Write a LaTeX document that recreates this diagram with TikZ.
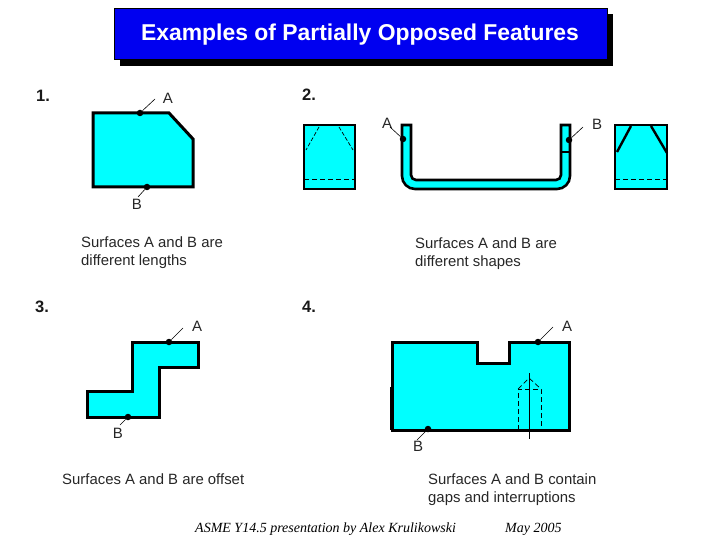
\documentclass[tikz,border=0pt]{standalone}
\usepackage{fontspec}
\setmainfont{Liberation Sans}
\newfontfamily\footfont{Liberation Serif}
\usetikzlibrary{positioning}

\definecolor{partcyan}{RGB}{0,255,255}
\definecolor{titleblue}{RGB}{0,0,240}

\begin{document}
\begin{tikzpicture}[x=1pt, y=-1pt,
    part/.style={draw=black, fill=partcyan, line width=3pt, line join=miter},
    hidden/.style={draw=black, line width=0.7pt, dash pattern=on 5pt off 3pt},
    leader/.style={draw=black, line width=0.6pt},
    point/.style={circle, fill=black, inner sep=0pt, minimum size=6.5pt},
    letter/.style={font=\fontsize{15}{15}\selectfont, text=black!85, inner sep=0pt},
    num/.style={font=\fontsize{16.5}{16.5}\selectfont\bfseries, text=black!90, inner sep=0pt},
    note/.style={font=\fontsize{14.9}{18}\selectfont, text=black!85, inner sep=0pt, align=left, anchor=north west},
    foot/.style={font=\fontsize{14}{14}\selectfont\footfont\itshape, inner sep=0pt}]
  \useasboundingbox (0,0) rectangle (720,540);

  % title
  \fill[black] (120,14) rectangle (613,66);
  \node[fill=titleblue, draw=black, line width=0.6pt, minimum width=493pt, minimum height=51pt, inner sep=0pt] (title) at (360.5,33.5) {};
  \node[font=\fontsize{22.9}{22.9}\selectfont\bfseries, text=white, inner sep=0pt] (titletext) at (360,34.5) {Examples of Partially Opposed Features};

  \node[num] (num1) at (43,96) {1.};
  \node[num] (num2) at (309,95) {2.};
  \node[num] (num3) at (42,307) {3.};
  \node[num] (num4) at (309,307) {4.};

  % first part
  \draw[part] (93,113) -- (169,113) -- (193,139) -- (193,187) -- (93,187) -- cycle;
  \node[point] (a1) at (140,113) {};
  \node[point] (b1) at (147,187) {};
  \node[letter] (la1) at (168,98) {A};
  \node[letter] (lb1) at (137,204) {B};
  \coordinate (ea1) at (155,99);
  \coordinate (eb1) at (138,197);
  \draw[leader] (ea1) -- (a1);
  \draw[leader] (eb1) -- (b1);
  \node[note] (text1) at (81,237) {Surfaces A and B are\\different lengths};

  % second part, end views and section
  \draw[part, line width=2.6pt] (304,125) rectangle (355,189);
  \draw[hidden] (304,179) -- (355,179);
  \draw[hidden, dash pattern=on 4pt off 2pt] (319,127) -- (306,150);
  \draw[hidden, dash pattern=on 4pt off 2pt] (339,127) -- (353,150);

  \draw[part, line width=2.6pt] (402,125) -- (411,125) -- (411,175) arc (180:90:5) -- (556,180)
    arc (90:0:5) -- (561,125) -- (570,125) -- (570,176) arc (0:90:13) -- (415,189) arc (90:180:13) -- cycle;
  \draw[black, line width=2pt] (561,152) -- (570,152);
  \node[point] (a2) at (403,139) {};
  \node[point] (b2) at (569,140) {};
  \node[letter] (la2) at (387,123) {A};
  \node[letter] (lb2) at (597,124) {B};
  \coordinate (ea2) at (390,127);
  \coordinate (eb2) at (583,127);
  \draw[leader] (ea2) -- (a2);
  \draw[leader] (eb2) -- (b2);

  \draw[part, line width=2.6pt] (615,125) rectangle (667,189);
  \draw[hidden] (615,179) -- (667,179);
  \draw[black, line width=2.4pt] (631,126) -- (617,152);
  \draw[black, line width=2.4pt] (651,126) -- (667,153);
  \node[note] (text2) at (415,238) {Surfaces A and B are\\different shapes};

  % third part
  \draw[part] (132,342) -- (198,342) -- (198,367) -- (159,367) -- (159,417) -- (87,417) -- (87,391) -- (132,391) -- cycle;
  \node[point] (a3) at (169,342) {};
  \node[point] (b3) at (128,417) {};
  \node[letter] (la3) at (197,326) {A};
  \node[letter] (lb3) at (118,433) {B};
  \coordinate (ea3) at (183,328);
  \coordinate (eb3) at (120,425);
  \draw[leader] (ea3) -- (a3);
  \draw[leader] (eb3) -- (b3);
  \node[note] (text3) at (62,473) {Surfaces A and B are offset};

  % fourth part
  \draw[part] (392,342) -- (477,342) -- (477,363) -- (509,363) -- (509,342) -- (569,342) -- (569,430) -- (392,430) -- cycle;
  \draw[black, line width=1pt] (390,387) -- (390,430);
  \draw[hidden] (518,430) -- (518,389) -- (541,389) -- (541,430);
  \draw[hidden] (518,389) -- (529,378) -- (541,389);
  \draw[black, line width=0.8pt] (529,373) -- (529,439);
  \node[point] (a4) at (538,342) {};
  \node[point] (b4) at (428,429) {};
  \node[letter] (la4) at (567,326) {A};
  \node[letter] (lb4) at (418,446) {B};
  \coordinate (ea4) at (553,327);
  \coordinate (eb4) at (417,440);
  \draw[leader] (ea4) -- (a4);
  \draw[leader] (eb4) -- (b4);
  \node[note] (text4) at (428,473) {Surfaces A and B contain\\gaps and interruptions};

  % footer
  \node[foot, anchor=west] (source) at (195,529) {ASME Y14.5 presentation by Alex Krulikowski};
  \node[foot, anchor=west] (date) at (505,529) {May 2005};
\end{tikzpicture}
\end{document}
